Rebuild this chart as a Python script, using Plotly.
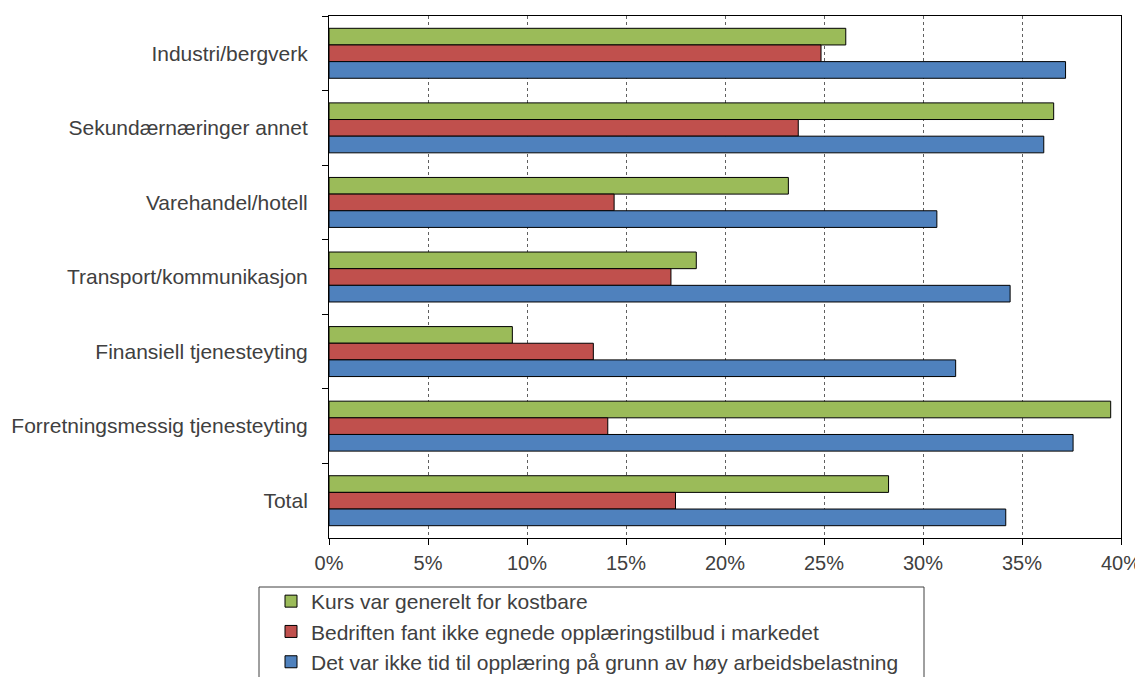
import plotly.graph_objects as go

categories = [
    "Industri/bergverk",
    "Sekundærnæringer annet",
    "Varehandel/hotell",
    "Transport/kommunikasjon",
    "Finansiell tjenesteyting",
    "Forretningsmessig tjenesteyting",
    "Total",
]
series_names = [
    "Kurs var generelt for kostbare",
    "Bedriften fant ikke egnede opplæringstilbud i markedet",
    "Det var ikke tid til opplæring på grunn av høy arbeidsbelastning",
]
kurs_kostbare = [0.261, 0.366, 0.232, 0.1855, 0.0926, 0.3948, 0.2826]
ikke_egnede = [0.2485, 0.237, 0.144, 0.1727, 0.1335, 0.1408, 0.175]
ikke_tid = [0.372, 0.361, 0.307, 0.344, 0.3165, 0.3758, 0.3418]
colors = ["#9BBB59", "#C0504D", "#4F81BD"]

# page body has an 8px margin, so figure coords = page coords - 8
OFF = 8
W, H = 1143 - OFF, 677 - OFF
ml, mt = 329 - OFF, 16 - OFF
plot_right, plot_bottom = 1121 - OFF, 538 - OFF
mr, mb = W - plot_right, H - plot_bottom
pw, ph = W - ml - mr, H - mt - mb

font = dict(family="Liberation Sans, Arial, sans-serif", size=21, color="#404040")
tickfont_x = dict(family="Liberation Sans, Arial, sans-serif", size=20, color="#404040")

fig = go.Figure()
for i, (name, vals) in enumerate(zip(series_names, [kurs_kostbare, ikke_egnede, ikke_tid])):
    fig.add_trace(go.Bar(
        y=categories, x=vals, name=name, orientation="h",
        marker=dict(color=colors[i], line=dict(color="#000000", width=1)),
        legendgroup=f"g{i}",
    ))

def px_x(p):
    return (p - OFF - ml) / pw

def px_y(p):
    return (H - mb - (p - OFF)) / ph

fig.add_shape(type="rect", xref="paper", yref="paper",
              x0=px_x(259), x1=px_x(924), y0=px_y(720), y1=px_y(587),
              line=dict(color="#404040", width=1), fillcolor="rgba(0,0,0,0)")

fig.update_layout(
    width=W, height=H,
    margin=dict(l=ml, r=mr, t=mt, b=mb, autoexpand=False),
    paper_bgcolor="white", plot_bgcolor="white",
    font=font,
    barmode="group", bargap=0.33, bargroupgap=0,
    showlegend=True,
    legend=dict(
        x=px_x(271), y=px_y(581), xanchor="left", yanchor="top",
        bgcolor="rgba(0,0,0,0)", borderwidth=0,
        traceorder="grouped", tracegroupgap=0,
        font=font, itemclick=False,
    ),
    xaxis=dict(
        range=[0, 0.4], dtick=0.05, tick0=0, tickformat=".0%",
        showgrid=True, gridcolor="#606060", griddash="dot", gridwidth=1,
        showline=True, linecolor="#000000", linewidth=1, mirror=True,
        ticks="outside", ticklen=6, tickcolor="#000000",
        ticklabelstandoff=1, zeroline=False, tickfont=tickfont_x,
    ),
    yaxis=dict(
        autorange="reversed", type="category",
        showgrid=False, showline=True, linecolor="#000000", linewidth=1, mirror=True,
        ticks="outside", ticklen=6, tickcolor="#000000", tickson="boundaries",
        ticklabelstandoff=16, tickfont=font,
    ),
)

fig.write_html("out.html")
